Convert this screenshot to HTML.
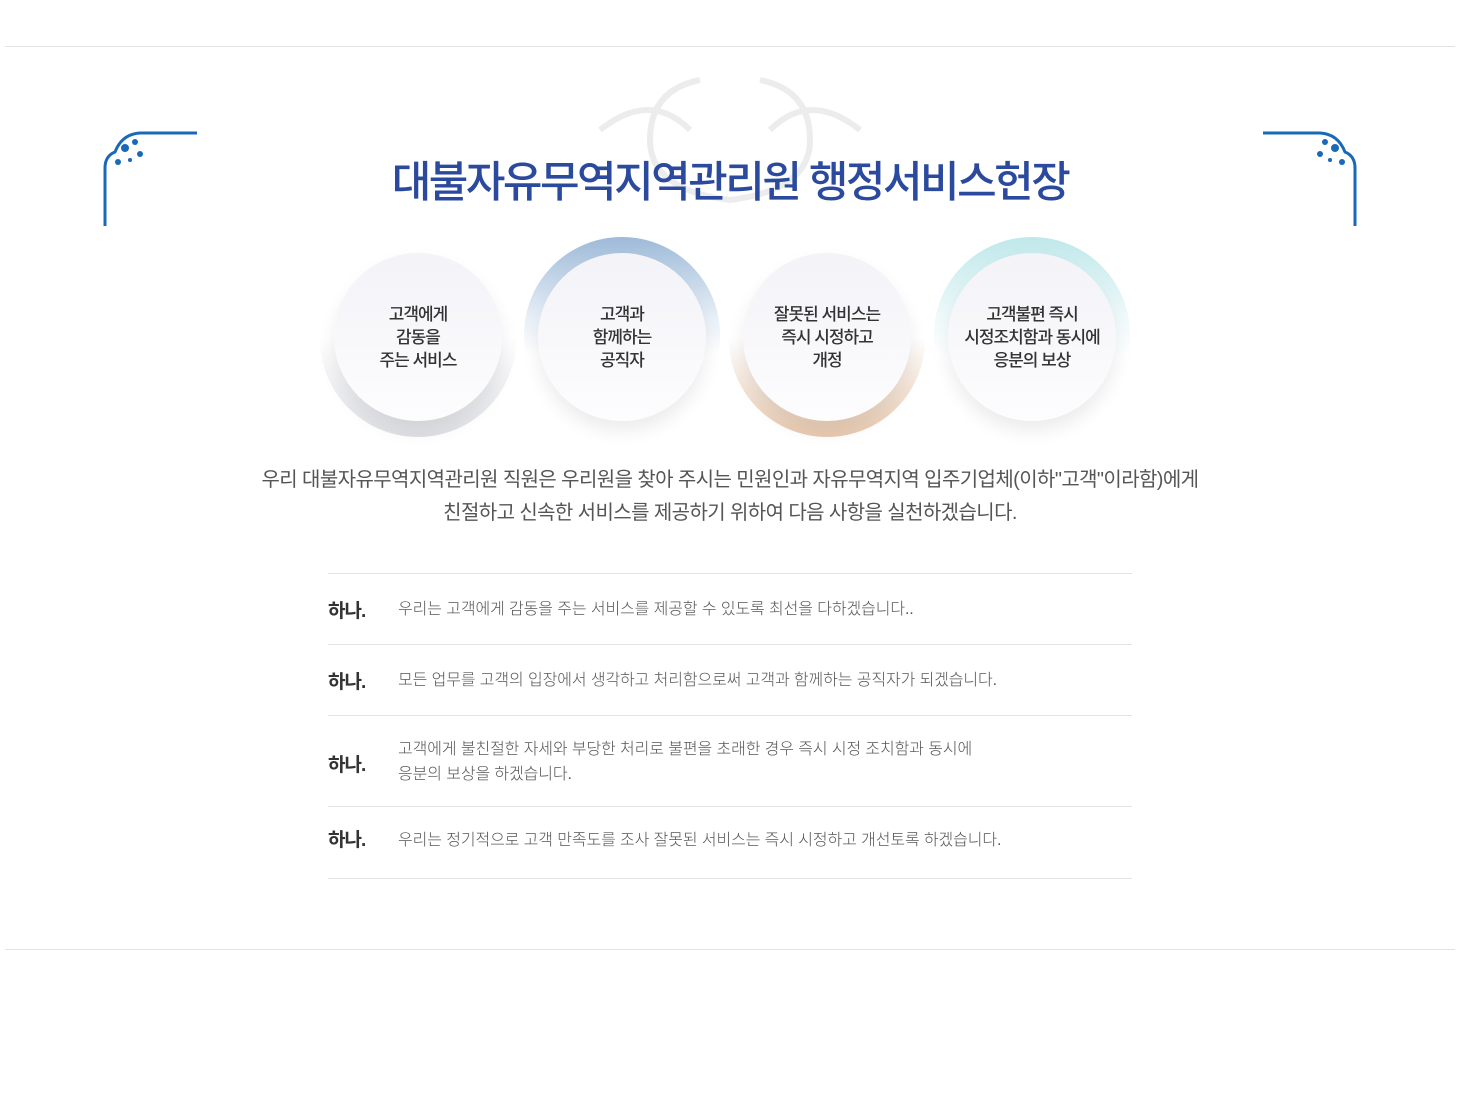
<!DOCTYPE html>
<html><head><meta charset="utf-8"><style>
body{margin:0;width:1460px;height:1100px;background:#fff;position:relative;overflow:hidden;font-family:"Liberation Sans","Noto Sans CJK KR",sans-serif;}
.hl{position:absolute;left:5px;width:1450px;height:1px;background:#e3e3e3}
.title{position:absolute;top:148px;left:0;width:1460px;text-align:center;font-size:43px;font-weight:500;color:#2b4a9d;letter-spacing:-2.5px}
.c{position:absolute;width:168px;height:168px;border-radius:50%;background:linear-gradient(#f3f3f8,#fdfdfe);box-shadow:0 10px 18px rgba(0,0,0,0.08);display:flex;align-items:center;justify-content:center;text-align:center;font-size:17px;line-height:23px;color:#333;letter-spacing:-1px;font-weight:500}
.r{position:absolute;width:196px;height:196px;border-radius:50%}
.intro{position:absolute;top:464px;left:0;width:1460px;text-align:center;font-size:20px;line-height:33px;color:#555;letter-spacing:-0.6px}
.row{position:absolute;left:328px;width:804px;border-top:1px solid #e3e3e3}
.hn{position:absolute;left:0;font-size:19px;font-weight:bold;color:#333;letter-spacing:-1px}
.tx{position:absolute;left:70px;font-size:16px;line-height:25px;color:#555;letter-spacing:-0.1px;font-weight:300}
</style></head><body>
<div class="hl" style="top:46px"></div>
<div class="hl" style="top:949px"></div>
<svg style="position:absolute;left:590px;top:70px" width="280" height="140"><g fill="none" stroke="#ececec" stroke-width="6"><path d="M140 130 Q60 120 60 70 Q60 20 110 10"/><path d="M140 130 Q220 120 220 70 Q220 20 170 10"/><path d="M10 60 Q60 20 100 60"/><path d="M270 60 Q220 20 180 60"/></g></svg>
<svg style="position:absolute;left:100px;top:128px" width="100" height="100"><path d="M5 98 V40 Q5 28 15 24 Q22 6 40 5 H97" fill="none" stroke="#1a68b8" stroke-width="3"/><g fill="#1a68b8"><circle cx="25" cy="20" r="4"/><circle cx="35" cy="14" r="3"/><circle cx="40" cy="26" r="3"/><circle cx="18" cy="34" r="3"/><circle cx="30" cy="32" r="2"/></g></svg>
<svg style="position:absolute;left:1260px;top:128px;transform:scaleX(-1)" width="100" height="100"><path d="M5 98 V40 Q5 28 15 24 Q22 6 40 5 H97" fill="none" stroke="#1a68b8" stroke-width="3"/><g fill="#1a68b8"><circle cx="25" cy="20" r="4"/><circle cx="35" cy="14" r="3"/><circle cx="40" cy="26" r="3"/><circle cx="18" cy="34" r="3"/><circle cx="30" cy="32" r="2"/></g></svg>
<div class="title">대불자유무역지역관리원 행정서비스헌장</div>
<div class="r" style="left:320px;top:241px;background:linear-gradient(#fff 50%,#dfe0e5)"></div>
<div class="r" style="left:524px;top:237px;background:linear-gradient(#9dbad8,#e6eef7 40%,#fff 60%)"></div>
<div class="r" style="left:729px;top:241px;background:linear-gradient(#fff 50%,#e8c9ae)"></div>
<div class="r" style="left:934px;top:237px;background:linear-gradient(#bfe8ea,#eef9fa 40%,#fff 60%)"></div>
<div class="c" style="left:334px;top:253px">고객에게<br>감동을<br>주는 서비스</div>
<div class="c" style="left:538px;top:253px">고객과<br>함께하는<br>공직자</div>
<div class="c" style="left:743px;top:253px">잘못된 서비스는<br>즉시 시정하고<br>개정</div>
<div class="c" style="left:948px;top:253px">고객불편 즉시<br>시정조치함과 동시에<br>응분의 보상</div>
<div class="intro">우리 대불자유무역지역관리원 직원은 우리원을 찾아 주시는 민원인과 자유무역지역 입주기업체(이하"고객"이라함)에게<br>친절하고 신속한 서비스를 제공하기 위하여 다음 사항을 실천하겠습니다.</div>
<div class="row" style="top:573px;height:71px"><span class="hn" style="top:22px">하나.</span><span class="tx" style="top:23px">우리는 고객에게 감동을 주는 서비스를 제공할 수 있도록 최선을 다하겠습니다..</span></div>
<div class="row" style="top:644px;height:71px"><span class="hn" style="top:22px">하나.</span><span class="tx" style="top:23px">모든 업무를 고객의 입장에서 생각하고 처리함으로써 고객과 함께하는 공직자가 되겠습니다.</span></div>
<div class="row" style="top:715px;height:91px"><span class="hn" style="top:34px">하나.</span><span class="tx" style="top:21px">고객에게 불친절한 자세와 부당한 처리로 불편을 초래한 경우 즉시 시정 조치함과 동시에<br>응분의 보상을 하겠습니다.</span></div>
<div class="row" style="top:806px;height:71px;border-bottom:1px solid #e3e3e3"><span class="hn" style="top:18px">하나.</span><span class="tx" style="top:21px">우리는 정기적으로 고객 만족도를 조사 잘못된 서비스는 즉시 시정하고 개선토록 하겠습니다.</span></div>
</body></html>
